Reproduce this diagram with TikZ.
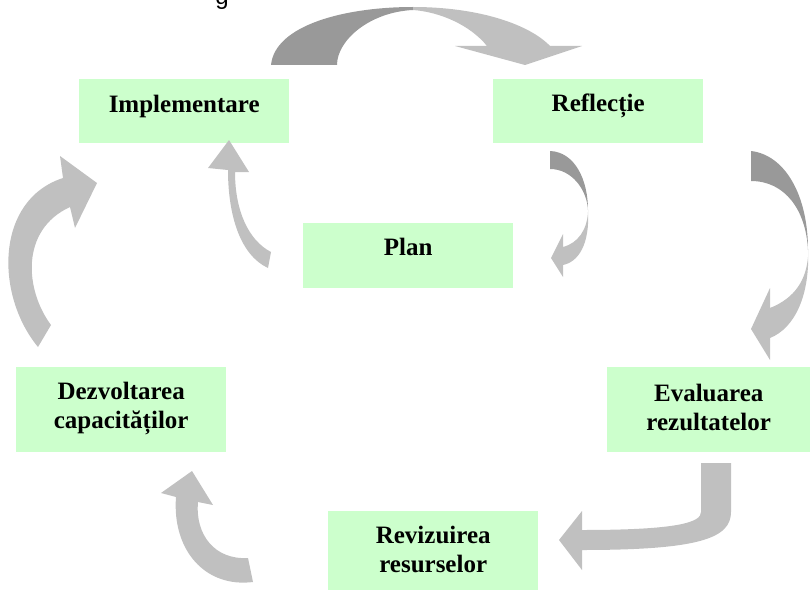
\documentclass[tikz,border=0pt]{standalone}
\usepackage{fontspec}
\setmainfont{Liberation Serif}
\newfontfamily\gsans{Liberation Sans}
\definecolor{boxgreen}{HTML}{CCFFCC}
\definecolor{arrdark}{HTML}{999999}
\definecolor{arrlight}{HTML}{C0C0C0}
\begin{document}
\begin{tikzpicture}[x=1pt,y=-1pt,
  box/.style={fill=boxgreen, draw=none, inner sep=0pt, align=center, anchor=north west,
    font=\fontsize{25}{29}\selectfont\bfseries},
  darkpart/.style={fill=arrdark, draw=none},
  lightpart/.style={fill=arrlight, draw=none}]
\useasboundingbox (0,0) rectangle (810,591);

% cut-off title fragment
\begin{scope}
\clip (0,0) rectangle (810,591);
\node[font=\gsans\fontsize{24}{24}\selectfont, anchor=base, inner sep=0pt] (title) at (222,5) {g};
\end{scope}

% boxes
\node[box, text width=210pt, text height=33pt, text depth=31pt] (impl) at (79,79) {Implementare};
\node[box, text width=210pt, text height=32pt, text depth=32pt] (refl) at (493,79) {Reflecție};
\node[box, text width=210pt, text height=32pt, text depth=33pt] (plan) at (303,223) {Plan};
\node[box, text width=203pt, text height=34pt, text depth=51pt] (eval) at (607,367) {Evaluarea\\rezultatelor};
\node[box, text width=210pt, text height=32pt, text depth=53pt] (dezv) at (16,367) {Dezvoltarea\\capacităților};
\node[box, text width=210pt, text height=32pt, text depth=47pt] (reviz) at (328,511) {Revizuirea\\resurselor};

% top arrow: Implementare -> Reflectie
\fill[darkpart] (271,65) .. controls (275,25) and (345,7) .. (413,7) -- (413,10)
  .. controls (370,12) and (337,40) .. (337,65) -- cycle;
\fill[lightpart] (413,7) .. controls (480,7) and (530,25) .. (550,46) -- (582,46) -- (525,65)
  -- (455,46) -- (487,46) .. controls (470,25) and (440,12) .. (413,10) -- cycle;

% small arrow: Reflectie -> Plan
\fill[darkpart] (550,151) .. controls (575,152) and (588,180) .. (588,210)
  .. controls (587,190) and (572,169) .. (550,169) -- cycle;
\fill[lightpart] (588,210) .. controls (590,245) and (578,262) .. (563,265) -- (563,277)
  -- (551,258) -- (563,234) -- (563,247) .. controls (578,243) and (587,230) .. (588,212) -- cycle;

% big arrow: Reflectie -> Evaluarea
\fill[darkpart] (751,151) .. controls (785,155) and (808,195) .. (808,250)
  .. controls (806,210) and (785,181) .. (751,181) -- cycle;
\fill[lightpart] (808,250) .. controls (810,295) and (795,328) .. (770,338) -- (770,360)
  -- (751,329) -- (770,288) -- (770,308) .. controls (795,298) and (806,280) .. (808,257) -- cycle;

% J arrow: Evaluarea -> Revizuirea
\fill[lightpart] (701,463) -- (731,463) -- (731,512) .. controls (731,538) and (700,550) .. (582,550)
  -- (582,570) -- (559,540) -- (582,511) -- (582,530)
  .. controls (680,530) and (701,522) .. (701,512) -- cycle;

% bottom-left arrow: Revizuirea -> Dezvoltarea
\fill[lightpart] (253,582) .. controls (205,588) and (172,550) .. (176,497) -- (161,493)
  -- (192,471) -- (213,505) -- (198,502) .. controls (195,535) and (215,560) .. (248,558) -- cycle;

% left big arrow: Dezvoltarea -> Implementare
\fill[lightpart] (38,347) .. controls (-5,295) and (-5,200) .. (63,178) -- (60,156) -- (97,183)
  -- (75,228) -- (70,207) .. controls (20,230) and (25,290) .. (51,325) -- cycle;

% small arrow: Plan -> Implementare
\fill[lightpart] (268,268) .. controls (240,255) and (228,215) .. (228,170) -- (208,168)
  -- (229,140) -- (249,172) -- (235,172) .. controls (235,210) and (248,240) .. (271,252) -- cycle;
\end{tikzpicture}
\end{document}
